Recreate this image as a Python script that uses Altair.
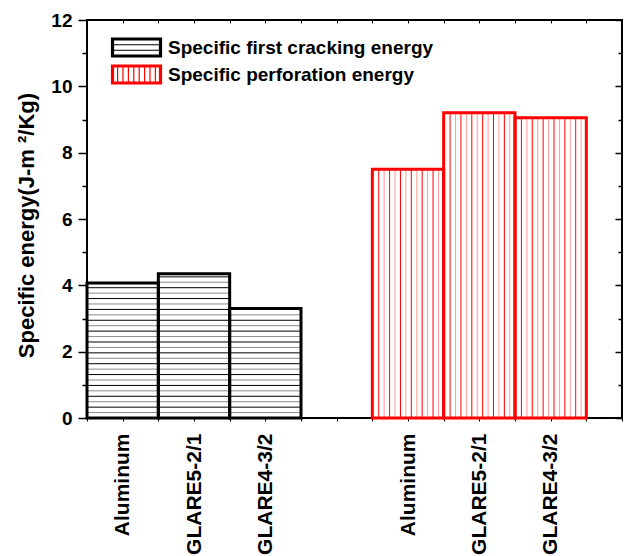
import altair as alt
import pandas as pd

# ---------------- data ----------------
materials = ["Aluminum", "GLARE5-2/1", "GLARE4-3/2"]
series = ["Specific first cracking energy", "Specific perforation energy"]
first_cracking = [4.07, 4.35, 3.30]
perforation = [7.50, 9.20, 9.05]
y_tick_values = list(range(0, 13))
x_tick_values = [i * 0.5 for i in range(0, 16)]

# ---------------- styles ----------------
series_colors = ["#000000", "#ff0000"]
hatch_colors = [["#000000", "#8a8a8a"], ["#ff0000", "#ff9a9a"]]
FONT = "Liberation Sans"
X_MAX = 7.5
Y_MAX = 12
DY = 0.1637   # horizontal hatch spacing (y units)
DX = 0.0761   # vertical hatch spacing (x units)

rows = []
for g, vals in enumerate([first_cracking, perforation]):
    for i, (m, v) in enumerate(zip(materials, vals)):
        start = g * (len(materials) + 1) + i
        rows.append(dict(series=series[g], material=m, value=v, x0=start,
                         x1=start + 1, xc=start + 0.5, c=series_colors[g], g=g))
bars = pd.DataFrame(rows)

h_rows, v_rows = [], []
for r in rows:
    if r["g"] == 0:
        k = 1
        while k * DY < r["value"] - 0.05:
            h_rows.append(dict(x0=r["x0"], x1=r["x1"], y=k * DY, c=hatch_colors[0][k % 2]))
            k += 1
    else:
        j = 0
        x = r["x0"] + 0.09
        while x < r["x1"] - 0.03:
            v_rows.append(dict(x=x, y0=0, y1=r["value"], c=hatch_colors[1][j % 2]))
            j += 1
            x += DX
hdf = pd.DataFrame(h_rows)
vdf = pd.DataFrame(v_rows)

# label expression for bar-centre ticks
label_expr = ""
for r in rows:
    label_expr += f"datum.value == {r['xc']} ? '{r['material']}' : "
label_expr += "''"

xs = alt.Scale(domain=[0, X_MAX], nice=False, zero=False)
ys = alt.Scale(domain=[0, Y_MAX], nice=False, zero=True)

bottom_axis = alt.Axis(values=x_tick_values, labelExpr=label_expr, orient="bottom",
                       labelAngle=-90, labelAlign="right", labelBaseline="middle",
                       labelFont=FONT, labelFontSize=21, labelFontWeight="bold",
                       labelColor="black", labelPadding=12, tickSize=3, tickColor="black",
                       tickWidth=1, domain=False, grid=False, title=None,
                       labelOverlap=False, labelFlush=False)
left_axis = alt.Axis(values=y_tick_values, orient="left",
                     labelExpr="datum.value % 2 === 0 ? datum.label : ''",
                     tickSize={"condition": {"test": "datum.value % 2 === 0", "value": 9}, "value": 5},
                     tickColor="black", tickWidth=1.5, labelPadding=6,
                     labelFont=FONT, labelFontSize=19, labelFontWeight="bold",
                     labelColor="black", domain=False, grid=False,
                     title="Specific energy(J-m \u00b2/Kg)", titleFont=FONT,
                     titleFontSize=22, titleFontWeight="bold", titleColor="black",
                     titleX=-61, titleY=205, titleAngle=-90, titleBaseline="middle",
                     titleAlign="center", labelOverlap=False, labelFlush=False)
top_axis = alt.Axis(values=x_tick_values, orient="top", labels=False,
                    tickSize=alt.ExprRef(expr="-3"), tickColor="black", tickWidth=1,
                    domain=False, grid=False, title=None)
right_axis = alt.Axis(values=y_tick_values, orient="right", labels=False,
                      tickSize=alt.ExprRef(expr="datum.value % 2 === 0 ? -7 : -4"),
                      tickColor="black", tickWidth=1.5, domain=False, grid=False, title=None)

hatch_h = alt.Chart(hdf).mark_rule(strokeWidth=1).encode(
    x=alt.X("x0:Q", scale=xs, axis=bottom_axis),
    x2="x1:Q",
    y=alt.Y("y:Q", scale=ys, axis=left_axis),
    color=alt.Color("c:N", scale=None),
)

hatch_v = alt.Chart(vdf).mark_rule(strokeWidth=1).encode(
    x=alt.X("x:Q", scale=xs, axis=None),
    y=alt.Y("y0:Q", scale=ys, axis=None),
    y2="y1:Q",
    color=alt.Color("c:N", scale=None),
)

outline = alt.Chart(bars).mark_rect(fillOpacity=0, strokeWidth=3).encode(
    x=alt.X("x0:Q", scale=xs, axis=top_axis),
    x2="x1:Q",
    y=alt.Y("value:Q", scale=ys, axis=right_axis),
    y2=alt.datum(0),
    stroke=alt.Stroke("c:N", scale=None),
)

# legend symbols (custom paths, scale 12.5 px/unit): thick frame + hatch lines
frame = ("M-2,-0.76H2V0.76H-2Z M-1.92,-0.68H1.92V0.68H-1.92Z "
         "M-1.84,-0.60H1.84V0.60H-1.84Z ")
path_black = frame + "M-1.84,-0.22H1.84 M-1.84,0.22H1.84"
path_red = frame + " ".join(f"M{x:.3f},-0.60V0.60" for x in
                            [-1.512, -1.08, -0.648, -0.216, 0.216, 0.648, 1.08, 1.512])

legend = alt.Legend(title=None, orient="none", legendX=36, legendY=14,
                    symbolSize=625, symbolStrokeWidth=1.2, symbolOpacity=1,
                    labelFont=FONT, labelFontSize=19, labelFontWeight="bold",
                    labelColor="black", labelOffset=18, labelLimit=0,
                    rowPadding=1, padding=0)

legend_layer = alt.Chart(bars).mark_point(filled=True, opacity=0).encode(
    x=alt.X("xc:Q", scale=xs, axis=None),
    y=alt.Y("value:Q", scale=ys, axis=None),
    fill=alt.Fill("series:N", scale=alt.Scale(domain=series, range=["white", "white"]),
                  legend=legend),
    shape=alt.Shape("series:N", scale=alt.Scale(domain=series, range=[path_black, path_red]),
                    legend=legend),
    stroke=alt.Stroke("series:N", scale=alt.Scale(domain=series, range=series_colors),
                      legend=legend),
)

chart = alt.layer(hatch_h, hatch_v, outline, legend_layer).resolve_axis(
    x="independent", y="independent"
).properties(
    width=535, height=398,
    padding={"left": 87, "top": 20, "right": 5, "bottom": 138},
    autosize=alt.AutoSizeParams(type="none"),
    background="white",
).configure_view(stroke="black", strokeWidth=2)

chart.save("out.html", embed_options={"renderer": "svg", "actions": False})
